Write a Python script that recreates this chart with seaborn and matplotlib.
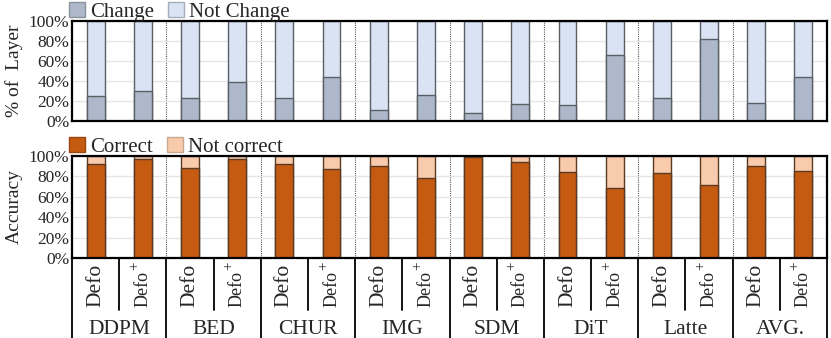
import matplotlib.pyplot as plt
import matplotlib.patches as mpatches
import numpy as np
import pandas as pd
import seaborn as sns

# chart values
models = ["DDPM", "BED", "CHUR", "IMG", "SDM", "DiT", "Latte", "AVG."]
variants = ["Defo", "Defo+"]
change = [24.5, 29.8, 22.8, 38.5, 23.1, 43.8, 10.7, 25.5,
          8.4, 17.4, 16.4, 65.9, 23.1, 81.6, 18.4, 43.5]
correct = [91.8, 96.7, 88.2, 96.7, 92.2, 87.6, 90.2, 78.8,
           99.0, 94.1, 84.3, 69.0, 83.7, 71.9, 90.2, 85.3]
yticks = [0, 20, 40, 60, 80, 100]

CHANGE_C = "#adb9ca"
NOCHANGE_C = "#dae3f3"
CORRECT_C = "#c55a11"
NOTCORRECT_C = "#f8cbad"

sns.set_style("white")
plt.rcParams["font.family"] = ["Liberation Serif", "DejaVu Serif"]

slots = [f"{m}|{v}" for m in models for v in variants]
df = pd.DataFrame({"slot": slots, "change": change, "correct": correct})
df["total"] = 100.0

fig = plt.figure(figsize=(8.31, 3.38), dpi=100)
W, H = 831, 338
left, right = 72 / W, 827 / W
ax1 = fig.add_axes([left, 1 - 121 / H, right - left, 100 / H])
ax2 = fig.add_axes([left, 1 - 258 / H, right - left, 102 / H])
axt = fig.add_axes([left, 0, right - left, 1 - 258 / H])


def stacked(ax, low, low_c, high_c, edge):
    # full-height bar first, then the lower share drawn over it
    sns.barplot(data=df, x="slot", y="total", order=slots, color=high_c,
                saturation=1, width=0.38, edgecolor=edge, linewidth=1, ax=ax)
    sns.barplot(data=df, x="slot", y=low, order=slots, color=low_c,
                saturation=1, width=0.38, edgecolor=edge, linewidth=1, ax=ax)
    ax.set_xlim(-0.5, len(slots) - 0.5)
    ax.set_ylim(0, 100)
    ax.set_yticks(yticks)
    ax.set_yticklabels([f"{t}%" for t in yticks], fontsize=12.5)
    ax.tick_params(axis="y", length=0, pad=2)
    ax.set_xticks([])
    ax.set_xlabel("")
    ax.yaxis.grid(True, color="#e6e6e6", linewidth=1)
    ax.set_axisbelow(True)
    for b in np.arange(1.5, len(slots) - 1, 2):
        ax.axvline(b, color="#555555", linestyle=(0, (1, 1)), linewidth=0.8, zorder=0.5)
    for s in ax.spines.values():
        s.set_linewidth(1.6)
        s.set_color("black")


stacked(ax1, "change", CHANGE_C, NOCHANGE_C, "#5a5f66")
stacked(ax2, "correct", CORRECT_C, NOTCORRECT_C, "#5a3a22")
ax1.set_ylabel("% of  Layer", fontsize=14, labelpad=4)
ax2.set_ylabel("Accuracy", fontsize=14, labelpad=4)

h1 = [mpatches.Patch(facecolor=CHANGE_C, edgecolor="#8a929c", label="Change"),
      mpatches.Patch(facecolor=NOCHANGE_C, edgecolor="#a5adb8", label="Not Change")]
ax1.legend(handles=h1, loc="lower left", bbox_to_anchor=(-0.004, 0.99), ncol=2,
           frameon=False, fontsize=15, borderaxespad=0, borderpad=0,
           handlelength=0.75, handleheight=0.75, handletextpad=0.25, columnspacing=0.7)
h2 = [mpatches.Patch(facecolor=CORRECT_C, edgecolor="#9a4510", label="Correct"),
      mpatches.Patch(facecolor=NOTCORRECT_C, edgecolor="#c8a890", label="Not correct")]
ax2.legend(handles=h2, loc="lower left", bbox_to_anchor=(-0.004, 0.99), ncol=2,
           frameon=False, fontsize=15, borderaxespad=0, borderpad=0,
           handlelength=0.75, handleheight=0.75, handletextpad=0.25, columnspacing=0.7)

# label table under the bars
axt.set_xlim(-0.5, len(slots) - 0.5)
axt.set_ylim(0, 1)
axt.axis("off")
sub_bottom = (H - 310) / (H - 258)
text_base = (H - 307) / (H - 258)
for i, s in enumerate(slots):
    m, v = s.split("|")
    if v.endswith("+"):
        # "Defo" with a raised plus at its end
        axt.text(i, text_base, v[:-1], rotation=90, ha="center", va="bottom",
                 fontsize=13)
        axt.annotate("+", xy=(i, text_base), xytext=(-8, 41),
                     textcoords="offset pixels", rotation=90,
                     ha="center", va="center", fontsize=11)
    else:
        axt.text(i, text_base, v, rotation=90, ha="center", va="bottom",
                 fontsize=15.5)
for g, m in enumerate(models):
    axt.text(2 * g + 0.5, (H - 333.5) / (H - 258), m, ha="center", va="baseline",
             fontsize=15.5)
for b in np.arange(-0.5, len(slots), 2):
    axt.plot([b, b], [0, 1], color="black", linewidth=1.3, clip_on=False)
for b in np.arange(0.5, len(slots), 2):
    axt.plot([b, b], [sub_bottom, 1], color="black", linewidth=1.3, clip_on=False)

fig.savefig("out.png", dpi=100)
